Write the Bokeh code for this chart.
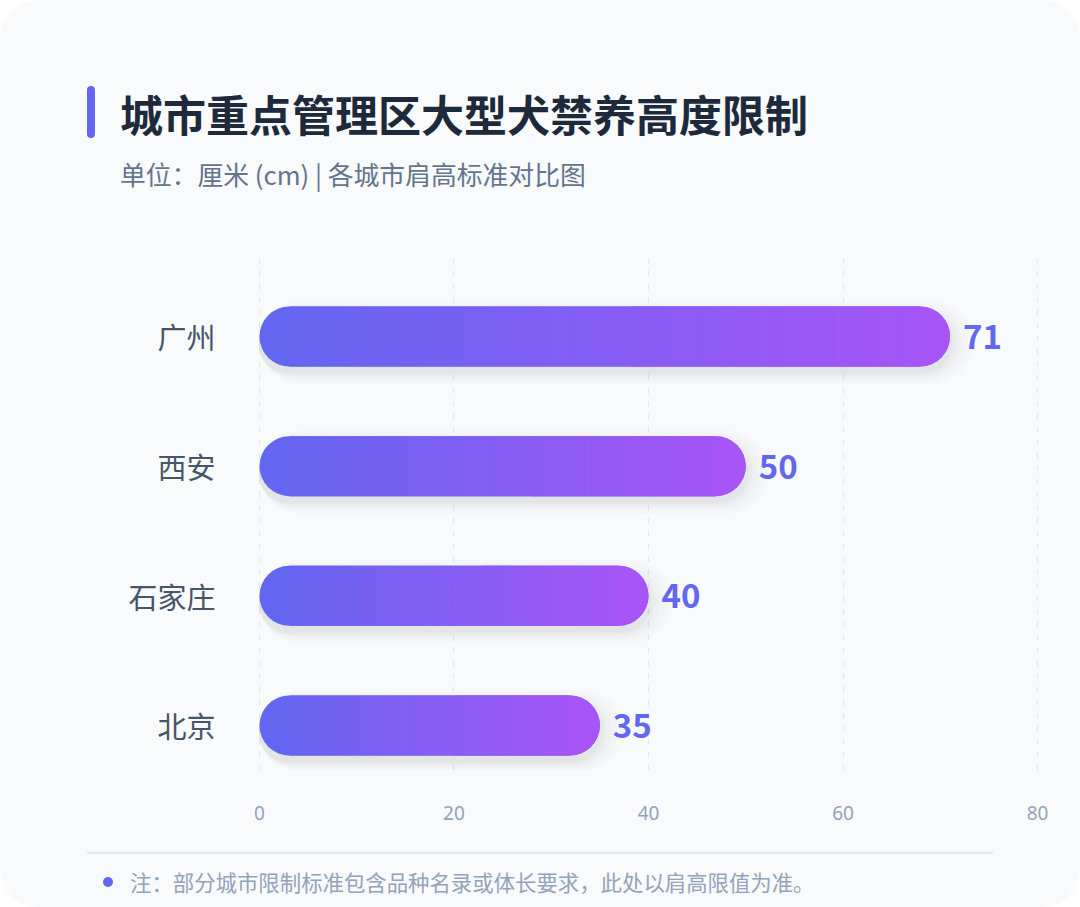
import numpy as np
from bokeh.plotting import figure
from bokeh.layouts import column
from bokeh.models import Range1d, FixedTicker, ColumnDataSource, Div
from bokeh.embed import file_html
from bokeh.resources import INLINE
from bokeh.core.properties import value

# ---------------- data ----------------
cities = ["北京", "石家庄", "西安", "广州"]      # bottom -> top
heights = [35, 40, 50, 71]
x_ticks = [0, 20, 40, 60, 80]
title_text = "城市重点管理区大型犬禁养高度限制"
subtitle_text = "单位：厘米 (cm) | 各城市肩高标准对比图"
note_text = "注：部分城市限制标准包含品种名录或体长要求，此处以肩高限值为准。"

# ---------------- layout constants ----------------
W = 1080
HEAD_H, FIG_H, FOOT_H = 230, 610, 67
FL, FW = 258, 780
FT, FH = 28, 512
X0, X1 = -0.1, 80.1
Y0, Y1 = -0.347, 3.601
kx = FW / (X1 - X0)
ky = FH / (Y1 - Y0)
BAR_PX = 60
CJK = "Noto Sans CJK SC"
BG = "#f8fafc"
C0 = np.array([0x63, 0x66, 0xf1])
C1 = np.array([0xa8, 0x55, 0xf7])


def mix(t):
    c = C0 + (C1 - C0) * t
    return "#%02x%02x%02x" % tuple(int(round(v)) for v in c)


fig = figure(width=W, height=FIG_H, x_range=Range1d(X0, X1), y_range=Range1d(Y0, Y1),
             output_backend="svg", toolbar_location=None,
             min_border_left=FL, min_border_top=FT,
             min_border_right=W - FL - FW, min_border_bottom=FIG_H - FT - FH,
             margin=(0, 0, 0, 0))
fig.background_fill_color = BG
fig.border_fill_color = BG
fig.outline_line_color = None

# grid
fig.ygrid.grid_line_color = None
fig.xgrid.ticker = FixedTicker(ticks=x_ticks)
fig.xgrid.grid_line_color = "#e2e8f0"
fig.xgrid.grid_line_dash = "6 7"
fig.xgrid.grid_line_width = 1.2

# x axis
fig.xaxis.ticker = FixedTicker(ticks=x_ticks)
fig.xaxis.axis_line_color = None
fig.xaxis.major_tick_line_color = None
fig.xaxis.minor_tick_line_color = None
fig.xaxis.major_label_text_font = "Noto Sans"
fig.xaxis.major_label_text_font_size = "19px"
fig.xaxis.major_label_text_color = "#94a3b8"
fig.xaxis.major_label_standoff = 29

# y axis
idx = list(range(len(cities)))
fig.yaxis.ticker = FixedTicker(ticks=idx)
fig.yaxis.major_label_overrides = {i: c for i, c in zip(idx, cities)}
fig.yaxis.axis_line_color = None
fig.yaxis.major_tick_line_color = None
fig.yaxis.minor_tick_line_color = None
fig.yaxis.major_label_text_font = CJK
fig.yaxis.major_label_text_font_size = "29px"
fig.yaxis.major_label_text_color = "#475569"
fig.yaxis.major_label_standoff = 37

# shadows
for s, a in [(24, 0.010), (18, 0.012), (12, 0.016), (7, 0.02), (3, 0.024)]:
    fig.hbar(y=[i - 6 / ky for i in idx], left=[-s / kx] * len(idx),
             right=[v + s / kx for v in heights], height=(BAR_PX + s) / ky,
             fill_color="#000000", fill_alpha=a, line_color=None,
             border_radius=int((BAR_PX + s) // 2))

# bars with horizontal gradient
r_u = (BAR_PX / 2) / kx
for i, v in zip(idx, heights):
    fig.hbar(y=[i], left=[0], right=[v], height=BAR_PX / ky, fill_color=mix(0),
             line_color=None, border_radius=BAR_PX // 2)
    fig.hbar(y=[i], left=[v / 2], right=[v], height=BAR_PX / ky, fill_color=mix(1),
             line_color=None, border_radius=BAR_PX // 2)
    n = int(v * kx / 3)
    edges = np.linspace(r_u, v - r_u, n + 1)
    lefts = edges[:-1]
    rights = edges[1:] + 0.6 / kx
    rights[-1] = edges[-1]
    mids = (edges[:-1] + edges[1:]) / 2
    cols = [mix(m / v) for m in mids]
    src = ColumnDataSource(dict(y=[i] * n, left=lefts, right=rights, color=cols))
    fig.hbar(y="y", left="left", right="right", height=BAR_PX / ky, fill_color="color",
             line_color=None, source=src)

# value labels
fig.text(x=heights, y=idx, text=[str(v) for v in heights], x_offset=13,
         text_baseline="middle", text_align="left", text_font=value(CJK),
         text_font_style="bold", text_font_size="33px", text_color="#6366f1")

# ---------------- header / footer ----------------
font = "font-family:'Noto Sans CJK SC','Noto Sans',sans-serif;white-space:nowrap;line-height:1;"
header_html = (
    f'<div style="position:relative;width:{W}px;height:{HEAD_H}px;">'
    '<div style="position:absolute;left:87px;top:86px;width:8px;height:52px;'
    'background:#6366f1;border-radius:4px;"></div>'
    f'<div style="position:absolute;left:120px;top:113px;transform:translateY(-50%);{font}'
    f'font-size:43px;font-weight:700;color:#1e293b;">{title_text}</div>'
    f'<div style="position:absolute;left:120px;top:174px;transform:translateY(-50%);{font}'
    f'font-size:25.8px;color:#64748b;">{subtitle_text}</div>'
    '</div>'
)
footer_html = (
    f'<div style="position:relative;width:{W}px;height:{FOOT_H}px;">'
    '<div style="position:absolute;left:87px;top:12px;width:906px;height:2px;'
    'background:#e2e8f0;"></div>'
    '<div style="position:absolute;left:103px;top:37px;width:10px;height:10px;'
    'border-radius:50%;background:#6366f1;"></div>'
    f'<div style="position:absolute;left:130px;top:42px;transform:translateY(-50%);{font}'
    f'font-size:21.4px;color:#94a3b8;">{note_text}</div>'
    '</div>'
)
header = Div(text=header_html, width=W, height=HEAD_H, margin=(0, 0, 0, 0))
footer = Div(text=footer_html, width=W, height=FOOT_H, margin=(0, 0, 0, 0))

p = column(header, fig, footer, spacing=0, margin=(0, 0, 0, 0),
           styles={"background-color": BG, "border-radius": "38px", "overflow": "hidden"})

open("out.html", "w").write(file_html(p, INLINE))
